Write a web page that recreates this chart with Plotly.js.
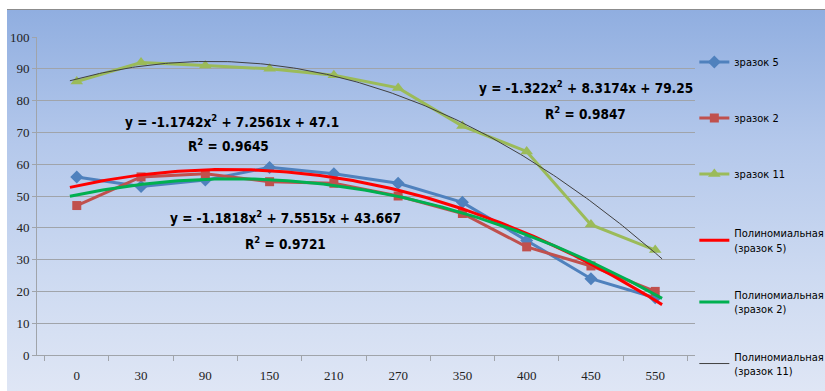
<!DOCTYPE html>
<html>
<head>
<meta charset="utf-8">
<script src="https://cdn.plot.ly/plotly-3.0.1.min.js"></script>
<style>
  html, body { margin: 0; padding: 0; background: #ffffff; }
  #wrap { position: relative; width: 825px; height: 391px; overflow: hidden; }
  #bg {
    position: absolute; left: 7px; top: 9px; width: 818px; height: 381px;
    border-top: 1px solid #8c8c8c;
    background: linear-gradient(to bottom, #90aee0 0%, #b4c8eb 35%, #cddaf1 70%, #dfe6f5 100%);
  }
  #chart { position: absolute; left: 0; top: 0; width: 825px; height: 391px; }
</style>
</head>
<body>
<div id="wrap">
  <div id="bg"></div>
  <div id="chart"></div>
</div>
<script>
// Category labels on the x axis
const categories = ['0', '30', '90', '150', '210', '270', '350', '400', '450', '550'];

// Measured values for each sample
const sample5  = [56, 53, 55, 59, 57, 54, 48, 36, 24, 18];
const sample2  = [47, 56, 57, 54.5, 54, 50, 44.5, 34, 28, 20];
const sample11 = [86, 92, 91, 90, 88, 84, 72, 64, 41, 33];

// Trendline equation labels
const eqLabels = [
  'y = -1.1742x<sup>2</sup> + 7.2561x + 47.1',
  'y = -1.1818x<sup>2</sup> + 7.5515x + 43.667',
  'y = -1.322x<sup>2</sup> + 8.3174x + 79.25'
];
const r2Labels = ['R<sup>2</sup> = 0.9645', 'R<sup>2</sup> = 0.9721', 'R<sup>2</sup> = 0.9847'];

// Least-squares quadratic fit on x = 1..n (category index, as in a spreadsheet trendline)
function quadFit(ys) {
  let s0 = 0, s1 = 0, s2 = 0, s3 = 0, s4 = 0, t0 = 0, t1 = 0, t2 = 0;
  ys.forEach((y, i) => {
    const x = i + 1;
    s0 += 1; s1 += x; s2 += x * x; s3 += x * x * x; s4 += x * x * x * x;
    t0 += y; t1 += x * y; t2 += x * x * y;
  });
  // Solve [[s4,s3,s2],[s3,s2,s1],[s2,s1,s0]] * [a,b,c] = [t2,t1,t0]
  const M = [[s4, s3, s2, t2], [s3, s2, s1, t1], [s2, s1, s0, t0]];
  for (let c = 0; c < 3; c++) {
    let p = c;
    for (let r = c + 1; r < 3; r++) if (Math.abs(M[r][c]) > Math.abs(M[p][c])) p = r;
    [M[c], M[p]] = [M[p], M[c]];
    for (let r = 0; r < 3; r++) {
      if (r === c) continue;
      const f = M[r][c] / M[c][c];
      for (let k = c; k < 4; k++) M[r][k] -= f * M[c][k];
    }
  }
  return [M[0][3] / M[0][0], M[1][3] / M[1][1], M[2][3] / M[2][2]];
}

function trendCurve(ys) {
  const [a, b, c] = quadFit(ys);
  const xs = [], vs = [];
  const n = ys.length;
  for (let k = 0; k <= 180; k++) {
    const x = 1 + (n - 1) * k / 180;
    xs.push(x);
    vs.push(a * x * x + b * x + c);
  }
  return { x: xs, y: vs };
}

const narrow = '"DejaVu Sans Condensed", "Liberation Sans Narrow", Roboto, sans-serif';
const serif = '"Liberation Serif", "DejaVu Serif", serif';
const legendFont = { family: narrow, size: 11, color: '#000000' };

const t5 = trendCurve(sample5), t2 = trendCurve(sample2), t11 = trendCurve(sample11);

const traces = [
  { x: categories, y: sample5, name: 'зразок 5', type: 'scatter', mode: 'lines+markers',
    line: { color: '#4f81bd', width: 3 }, marker: { symbol: 'diamond', size: 10, color: '#4f81bd' },
    legend: 'legend', legendgroup: 'a' },
  { x: categories, y: sample2, name: 'зразок 2', type: 'scatter', mode: 'lines+markers',
    line: { color: '#c0504d', width: 3 }, marker: { symbol: 'square', size: 9, color: '#c0504d' },
    legend: 'legend', legendgroup: 'b' },
  { x: categories, y: sample11, name: 'зразок 11', type: 'scatter', mode: 'lines+markers',
    line: { color: '#9bbb59', width: 3 }, marker: { symbol: 'triangle-up', size: 11, color: '#9bbb59' },
    legend: 'legend', legendgroup: 'c' },
  { x: t5.x, y: t5.y, xaxis: 'x2', name: 'Полиномиальная<br>(зразок 5)', type: 'scatter', mode: 'lines',
    line: { color: '#ff0000', width: 3 }, legend: 'legend2', legendgroup: 'd' },
  { x: t2.x, y: t2.y, xaxis: 'x2', name: 'Полиномиальная<br>(зразок 2)', type: 'scatter', mode: 'lines',
    line: { color: '#00b050', width: 3 }, legend: 'legend2', legendgroup: 'e' },
  { x: t11.x, y: t11.y, xaxis: 'x2', name: 'Полиномиальная<br>(зразок 11)', type: 'scatter', mode: 'lines',
    line: { color: '#404040', width: 1 }, legend: 'legend2', legendgroup: 'f' }
];

const annFont = { family: narrow, size: 13.5, color: '#000000' };
function ann(text, x, y) {
  return { text: '<b>' + text + '</b>', xref: 'paper', yref: 'paper', x: x, y: y,
           xanchor: 'center', yanchor: 'middle', showarrow: false, font: annFont };
}

const layout = {
  width: 825, height: 391,
  margin: { l: 37, r: 130, t: 37, b: 36, autoexpand: false },
  paper_bgcolor: 'rgba(0,0,0,0)',
  plot_bgcolor: 'rgba(0,0,0,0)',
  showlegend: true,
  xaxis: {
    type: 'category', tickson: 'boundaries', ticks: 'outside', ticklen: 5, tickcolor: '#a0a4aa',
    showline: true, linecolor: '#a0a4aa', linewidth: 1, showgrid: false, zeroline: false,
    ticklabelstandoff: 8,
    tickfont: { family: serif, size: 13, color: '#222222' }
  },
  xaxis2: { overlaying: 'x', anchor: 'y', range: [0.5, categories.length + 0.5], visible: false },
  yaxis: {
    range: [0, 100], dtick: 10, ticks: 'outside', ticklen: 4, tickcolor: '#a0a4aa',
    showline: true, linecolor: '#a0a4aa', linewidth: 1,
    showgrid: true, gridcolor: '#a0a4aa', gridwidth: 1, zeroline: false,
    tickfont: { family: serif, size: 13, color: '#222222' }
  },
  legend: {
    x: 0.999, y: 0.967, xanchor: 'left', yanchor: 'top', bgcolor: 'rgba(0,0,0,0)',
    font: legendFont, traceorder: 'grouped', tracegroupgap: 37, itemwidth: 30
  },
  legend2: {
    x: 0.999, y: 0.426, xanchor: 'left', yanchor: 'top', bgcolor: 'rgba(0,0,0,0)',
    font: legendFont, traceorder: 'grouped', tracegroupgap: 30, itemwidth: 30
  },
  annotations: [
    ann(eqLabels[0], 0.2964, 0.7358), ann(r2Labels[0], 0.2903, 0.6604),
    ann(eqLabels[1], 0.3769, 0.4340), ann(r2Labels[1], 0.3769, 0.3522),
    ann(eqLabels[2], 0.8343, 0.8428), ann(r2Labels[2], 0.8343, 0.7610)
  ]
};

Plotly.newPlot('chart', traces, layout, { displayModeBar: false, staticPlot: true });
</script>
</body>
</html>
